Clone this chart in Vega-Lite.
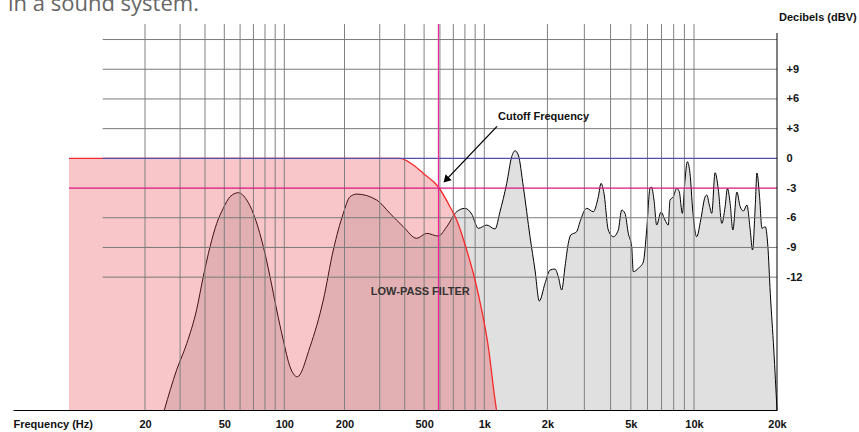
{
  "$schema": "https://vega.github.io/schema/vega-lite/v6.json",
  "width": 764,
  "height": 386,
  "autosize": {"type": "none"},
  "padding": {"left": 13, "top": 24, "right": 82, "bottom": 22},
  "background": "white",
  "config": {"view": {"stroke": null}, "font": "Liberation Sans"},
  "datasets": {
    "response": [
      {"freq": 25, "db": -25.42}, {"freq": 28.8, "db": -21.4}, {"freq": 32.4, "db": -18.7}, {"freq": 36.3, "db": -15.3},
      {"freq": 39.2, "db": -11.96}, {"freq": 42.4, "db": -8.93}, {"freq": 45.8, "db": -6.57}, {"freq": 49.4, "db": -5.05},
      {"freq": 53.4, "db": -3.88}, {"freq": 58.8, "db": -3.47}, {"freq": 64.8, "db": -4.21}, {"freq": 69.9, "db": -5.56},
      {"freq": 78.5, "db": -8.93}, {"freq": 84.8, "db": -11.96}, {"freq": 91.6, "db": -15.32}, {"freq": 98.8, "db": -18.35},
      {"freq": 106.8, "db": -21.05}, {"freq": 116.1, "db": -22.06}, {"freq": 134.5, "db": -19.03}, {"freq": 156.7, "db": -14.31},
      {"freq": 175.8, "db": -9.26}, {"freq": 197.2, "db": -5.56}, {"freq": 213.1, "db": -3.88}, {"freq": 230.1, "db": -3.61},
      {"freq": 289.7, "db": -4.21}, {"freq": 337.7, "db": -5.56}, {"freq": 393.6, "db": -6.91}, {"freq": 459.2, "db": -8.08},
      {"freq": 515.2, "db": -7.58}, {"freq": 588.8, "db": -7.85}, {"freq": 648.6, "db": -6.91}, {"freq": 727.8, "db": -5.39},
      {"freq": 800.8, "db": -5.05}, {"freq": 865, "db": -5.63}, {"freq": 933.3, "db": -7.07}, {"freq": 1027, "db": -6.74},
      {"freq": 1125, "db": -7.14}, {"freq": 1188, "db": -5.39}, {"freq": 1279, "db": -2.53}, {"freq": 1351, "db": 0.16},
      {"freq": 1401, "db": 0.77}, {"freq": 1453, "db": 0.33}, {"freq": 1535, "db": -2.87}, {"freq": 1652, "db": -7.92},
      {"freq": 1745, "db": -11.28}, {"freq": 1829, "db": -14.41}, {"freq": 1948, "db": -12.63}, {"freq": 2058, "db": -11.28},
      {"freq": 2174, "db": -11.18}, {"freq": 2254, "db": -11.96}, {"freq": 2339, "db": -13.3}, {"freq": 2426, "db": -10.95},
      {"freq": 2515, "db": -8.59}, {"freq": 2582, "db": -7.75}, {"freq": 2758, "db": -7.41}, {"freq": 2860, "db": -6.4},
      {"freq": 3078, "db": -5.05}, {"freq": 3310, "db": -5.39}, {"freq": 3497, "db": -3.88}, {"freq": 3602, "db": -2.53},
      {"freq": 3722, "db": -3.54}, {"freq": 3902, "db": -7.24}, {"freq": 4123, "db": -7.92}, {"freq": 4355, "db": -7.24},
      {"freq": 4521, "db": -5.22}, {"freq": 4688, "db": -5.56}, {"freq": 4861, "db": -7.58}, {"freq": 5046, "db": -8.93},
      {"freq": 5135, "db": -11.45}, {"freq": 5425, "db": -11.11}, {"freq": 5731, "db": -10.47}, {"freq": 5948, "db": -7.24},
      {"freq": 6168, "db": -3.03}, {"freq": 6270, "db": -2.9}, {"freq": 6445, "db": -4.21}, {"freq": 6638, "db": -6.74},
      {"freq": 6959, "db": -5.42}, {"freq": 7272, "db": -6.23}, {"freq": 7540, "db": -6.74}, {"freq": 7682, "db": -4.21},
      {"freq": 7966, "db": -3.88}, {"freq": 8268, "db": -3.03}, {"freq": 8508, "db": -3.37}, {"freq": 8795, "db": -5.56},
      {"freq": 9059, "db": -2.19}, {"freq": 9290, "db": -0.34}, {"freq": 9570, "db": -1.52}, {"freq": 9858, "db": -5.22},
      {"freq": 10229, "db": -7.92}, {"freq": 10577, "db": -6.23}, {"freq": 10965, "db": -3.91}, {"freq": 11123, "db": -3.71},
      {"freq": 11368, "db": -4.72}, {"freq": 11599, "db": -5.56}, {"freq": 11925, "db": -1.45}, {"freq": 12259, "db": -3.2},
      {"freq": 12613, "db": -6.57}, {"freq": 12967, "db": -4.89}, {"freq": 13220, "db": -3.03}, {"freq": 13522, "db": -4.55},
      {"freq": 13832, "db": -7.24}, {"freq": 14304, "db": -3.4}, {"freq": 14705, "db": -4.89}, {"freq": 15118, "db": -5.32},
      {"freq": 15555, "db": -4.72}, {"freq": 15990, "db": -7.24}, {"freq": 16302, "db": -9.26}, {"freq": 16675, "db": -4.89},
      {"freq": 16914, "db": -1.48}, {"freq": 17287, "db": -3.88}, {"freq": 17638, "db": -7.07}, {"freq": 18133, "db": -6.91},
      {"freq": 18518, "db": -8.76}, {"freq": 18910, "db": -13.64}, {"freq": 19473, "db": -19.36}, {"freq": 20000, "db": -25.42}
    ],
    "filter": [
      {"freq": 10, "db": 0}, {"freq": 300, "db": 0}, {"freq": 379, "db": 0}, {"freq": 441.6, "db": -0.68},
      {"freq": 495.5, "db": -1.52}, {"freq": 588.8, "db": -2.87}, {"freq": 673.8, "db": -4.89}, {"freq": 727.8, "db": -6.23},
      {"freq": 816.6, "db": -9.26}, {"freq": 898.5, "db": -12.29}, {"freq": 970.5, "db": -15.32}, {"freq": 1045, "db": -19.03},
      {"freq": 1125, "db": -24.4}, {"freq": 1143, "db": -25.42}
    ],
    "vgrid": [
      {"freq": 20}, {"freq": 30}, {"freq": 40}, {"freq": 50}, {"freq": 60}, {"freq": 70}, {"freq": 80}, {"freq": 90},
      {"freq": 100}, {"freq": 200}, {"freq": 300}, {"freq": 400}, {"freq": 500}, {"freq": 600}, {"freq": 700}, {"freq": 800}, {"freq": 900},
      {"freq": 1000}, {"freq": 2000}, {"freq": 3000}, {"freq": 4000}, {"freq": 5000}, {"freq": 6000}, {"freq": 7000}, {"freq": 8000}, {"freq": 9000},
      {"freq": 10000}
    ],
    "hgrid": [
      {"db": 12, "freq": 13.6}, {"db": 9, "freq": 13.6}, {"db": 6, "freq": 13.6}, {"db": 3, "freq": 13.6},
      {"db": -6, "freq": 13.6}, {"db": -9, "freq": 13.6}, {"db": -12, "freq": 13.6}
    ],
    "refs": [
      {"db": 0, "freq": 13.6, "line": "0 dB"},
      {"db": -3, "freq": 10, "line": "-3 dB"}
    ]
  },
  "layer": [
    {
      "data": {"name": "response"},
      "mark": {"type": "area", "interpolate": "monotone", "fill": "#e0e0e0"},
      "encoding": {
        "x": {
          "field": "freq", "type": "quantitative",
          "scale": {"type": "log", "domain": [6, 20, 100, 1000, 10000, 20000], "range": [0, 132, 271.3, 471.3, 681, 764], "nice": false},
          "axis": {
            "values": [6, 20, 50, 100, 200, 500, 1000, 2000, 5000, 10000, 20000],
            "labelExpr": "datum.value < 10 ? 'Frequency (Hz)' : datum.value >= 1000 ? (datum.value / 1000) + 'k' : '' + datum.value",
            "title": null, "grid": false, "ticks": false, "tickSize": 0,
            "domain": true, "domainColor": "#000000", "domainWidth": 1,
            "labelFont": "Liberation Sans", "labelFontSize": 11, "labelFontWeight": "bold", "labelColor": "#111111",
            "labelPadding": 8, "labelFlush": false, "labelOverlap": false, "labelBound": false,
            "labelAlign": {"condition": {"test": "datum.value < 10", "value": "left"}, "value": "center"},
            "zindex": 1
          }
        },
        "y": {
          "field": "db", "type": "quantitative",
          "scale": {"domain": [-25.42, 13.57], "nice": false, "zero": false},
          "axis": {
            "orient": "right", "values": [9, 6, 3, 0, -3, -6, -9, -12],
            "labelExpr": "datum.value > 0 ? '+' + datum.value : '' + datum.value",
            "title": null, "grid": false, "ticks": false, "tickSize": 0, "domain": false,
            "labelFont": "Liberation Sans", "labelFontSize": 11, "labelFontWeight": "bold", "labelColor": "#111111",
            "labelPadding": 9, "zindex": 1
          }
        },
        "y2": {"datum": -25.42}
      }
    },
    {
      "data": {"name": "response"},
      "mark": {"type": "line", "interpolate": "monotone", "stroke": "#000000", "strokeWidth": 1},
      "encoding": {
        "x": {"field": "freq", "type": "quantitative"},
        "y": {"field": "db", "type": "quantitative"}
      }
    },
    {
      "data": {"name": "filter"},
      "mark": {"type": "area", "interpolate": "monotone", "fill": "#e73b42", "fillOpacity": 0.29},
      "encoding": {
        "x": {"field": "freq", "type": "quantitative"},
        "y": {"field": "db", "type": "quantitative"},
        "y2": {"datum": -25.42}
      }
    },
    {
      "data": {"name": "vgrid"},
      "mark": {"type": "rule", "stroke": "#808080", "strokeWidth": 1},
      "encoding": {
        "x": {"field": "freq", "type": "quantitative"}
      }
    },
    {
      "data": {"name": "hgrid"},
      "mark": {"type": "rule", "stroke": "#7a7a7a", "strokeWidth": 1},
      "encoding": {
        "x": {"field": "freq", "type": "quantitative"},
        "x2": {"datum": 20000},
        "y": {"field": "db", "type": "quantitative"}
      }
    },
    {
      "data": {"name": "filter"},
      "mark": {"type": "line", "interpolate": "monotone", "stroke": "#f52a2a", "strokeWidth": 1.3},
      "encoding": {
        "x": {"field": "freq", "type": "quantitative"},
        "y": {"field": "db", "type": "quantitative"}
      }
    },
    {
      "data": {"name": "refs"},
      "mark": {"type": "rule", "strokeWidth": 1.2},
      "encoding": {
        "x": {"field": "freq", "type": "quantitative"},
        "x2": {"datum": 20000},
        "y": {"field": "db", "type": "quantitative"},
        "color": {"field": "line", "type": "nominal", "scale": {"domain": ["0 dB", "-3 dB"], "range": ["#5050b0", "#d6197f"]}, "legend": null}
      }
    },
    {
      "data": {"values": [{"freq": 590}]},
      "mark": {"type": "rule", "stroke": "#f0249a", "strokeWidth": 1.2},
      "encoding": {
        "x": {"field": "freq", "type": "quantitative"}
      }
    },
    {
      "data": {"values": [{"freq": 20000, "db": 12.66, "db2": -25.42}]},
      "mark": {"type": "rule", "stroke": "#000000", "strokeWidth": 1},
      "encoding": {
        "x": {"field": "freq", "type": "quantitative"},
        "y": {"field": "db", "type": "quantitative"},
        "y2": {"field": "db2"}
      }
    },
    {
      "data": {"values": [{"freq": 1150, "db": 3.23, "freq2": 644, "db2": -2.17}]},
      "mark": {"type": "rule", "stroke": "#000000", "strokeWidth": 1.3},
      "encoding": {
        "x": {"field": "freq", "type": "quantitative"},
        "y": {"field": "db", "type": "quantitative"},
        "x2": {"field": "freq2"},
        "y2": {"field": "db2"}
      }
    },
    {
      "data": {"values": [{"freq": 644, "db": -2.17}]},
      "mark": {"type": "point", "shape": "triangle-up", "angle": 224, "size": 70, "filled": true, "fill": "#000000", "opacity": 1, "strokeWidth": 0},
      "encoding": {
        "x": {"field": "freq", "type": "quantitative"},
        "y": {"field": "db", "type": "quantitative"}
      }
    },
    {
      "data": {"values": [{"freq": 1163, "db": 4.14, "label": "Cutoff Frequency"}]},
      "mark": {"type": "text", "align": "left", "baseline": "middle", "font": "Liberation Sans", "fontSize": 11, "fontWeight": "bold", "fill": "#111111"},
      "encoding": {
        "x": {"field": "freq", "type": "quantitative"},
        "y": {"field": "db", "type": "quantitative"},
        "text": {"field": "label"}
      }
    },
    {
      "data": {"values": [{"freq": 478.6, "db": -13.47, "label": "LOW-PASS FILTER"}]},
      "mark": {"type": "text", "align": "center", "baseline": "middle", "font": "Liberation Sans", "fontSize": 11, "fontWeight": "bold", "fill": "#333333"},
      "encoding": {
        "x": {"field": "freq", "type": "quantitative"},
        "y": {"field": "db", "type": "quantitative"},
        "text": {"field": "label"}
      }
    },
    {
      "data": {"values": [{"freq": 20000, "db": 14.17, "label": "Decibels (dBV)"}]},
      "mark": {"type": "text", "align": "left", "baseline": "middle", "dx": 2, "font": "Liberation Sans", "fontSize": 11, "fontWeight": "bold", "fill": "#111111"},
      "encoding": {
        "x": {"field": "freq", "type": "quantitative"},
        "y": {"field": "db", "type": "quantitative"},
        "text": {"field": "label"}
      }
    },
    {
      "data": {"values": [{"freq": 6, "db": 14.93, "label": "in a sound system."}]},
      "mark": {"type": "text", "align": "left", "baseline": "alphabetic", "dx": -5, "font": "Open Sans", "fontSize": 22, "fill": "#666666"},
      "encoding": {
        "x": {"field": "freq", "type": "quantitative"},
        "y": {"field": "db", "type": "quantitative"},
        "text": {"field": "label"}
      }
    }
  ]
}
